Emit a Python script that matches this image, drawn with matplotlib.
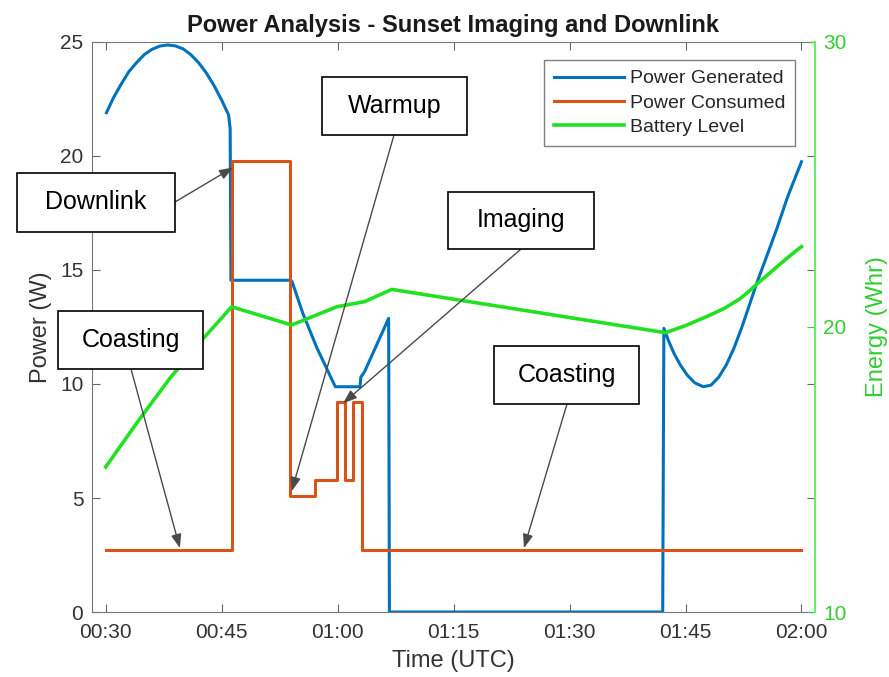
import matplotlib
matplotlib.use("Agg")
import matplotlib.pyplot as plt
from matplotlib.patches import Rectangle

plt.rcParams['font.family'] = ['Liberation Sans', 'DejaVu Sans']

# time in minutes after 00:00 UTC
gen_t = [30.1, 31.0, 32.0, 33.0, 34.0, 35.0, 36.0, 37.0, 38.0, 39.0, 40.0, 41.0, 42.0, 43.0, 44.0,
         45.0, 45.9, 46.1, 46.2,
         53.9, 54.1, 55.5, 57.3, 59.7, 62.9, 63.0, 63.5, 66.6, 66.7,
         102.05, 102.2, 102.8, 103.5, 104.3, 105.2, 106.2, 107.3, 108.3, 109.3, 110.3, 111.3,
         112.3, 113.3, 114.2, 115.5, 116.8, 118.2, 120.0]
gen_w = [21.9, 22.55, 23.15, 23.7, 24.1, 24.45, 24.68, 24.82, 24.87, 24.83, 24.7, 24.45, 24.1, 23.65, 23.1,
         22.45, 21.8, 21.2, 14.55,
         14.55, 14.5, 13.1, 11.6, 9.88, 9.88, 10.3, 10.55, 12.88, 0.0,
         0.0, 12.44, 11.9, 11.35, 10.85, 10.4, 10.05, 9.88, 9.95, 10.3, 10.85, 11.6,
         12.5, 13.5, 14.41, 15.6, 16.8, 18.2, 19.75]

con_t = [30.0, 46.3, 46.3, 53.9, 53.9, 57.1, 57.1, 59.9, 59.9, 61.0, 61.0, 62.0, 62.0, 63.1, 63.1, 120.0]
con_w = [2.72, 2.72, 19.76, 19.76, 5.07, 5.07, 5.79, 5.79, 9.22, 9.22, 5.79, 5.79, 9.22, 9.22, 2.72, 2.72]

bat_t = [30.0, 34.2, 38.3, 42.3, 46.3, 54.05, 59.9, 63.5, 67.0, 102.4, 105.0, 107.7, 110.0,
         112.1, 113.2, 114.2, 115.7, 117.2, 118.6, 120.0]
bat_e = [15.09, 16.7, 18.2, 19.5, 20.71, 20.07, 20.71, 20.89, 21.32, 19.8, 20.05, 20.36, 20.65,
         21.0, 21.25, 21.5, 21.85, 22.2, 22.52, 22.82]

xtick_pos = [30, 45, 60, 75, 90, 105, 120]
xtick_lab = ['00:30', '00:45', '01:00', '01:15', '01:30', '01:45', '02:00']

# annotation labels and the points they mark (time, power)
note_lab = ['Downlink', 'Warmup', 'Imaging', 'Coasting', 'Coasting']
note_t = [46.5, 54.06, 60.7, 39.6, 84.1]
note_w = [19.5, 5.3, 9.15, 2.8, 2.8]
# box pixel layout: x0, y0, x1, y1 and arrow start
note_box = [(17, 173, 175, 232), (322, 77, 467, 135), (448, 192, 594, 249),
            (58, 311, 203, 369), (494, 346, 639, 404)]
note_src = [(175, 202), (394, 135), (521, 249), (131, 369), (567, 404)]

W, H = 889, 677
fig = plt.figure(figsize=(8.89, 6.77), dpi=100)
ax = fig.add_axes([91.7 / W, 65 / H, 723.3 / W, 570 / H])
ax2 = ax.twinx()

l1, = ax.plot(gen_t, gen_w, color='#0072BD', lw=2.2, label='Power Generated', zorder=2)
l2, = ax.plot(con_t, con_w, color='#D95319', lw=2.2, label='Power Consumed', zorder=3)
l3, = ax2.plot(bat_t, bat_e, color='#22e022', lw=2.6, label='Battery Level')

ax.set_xlim(28.19, 121.75)
ax.set_ylim(0, 25)
ax2.set_ylim(10, 30)
ax.set_xticks(xtick_pos)
ax.set_xticklabels(xtick_lab)
ax.set_yticks([0, 5, 10, 15, 20, 25])
ax2.set_yticks([10, 20, 30])

ax.tick_params(axis='both', direction='in', top=True, right=True, length=5.5,
               color='#666666', labelsize=15, labelcolor='#333333', pad=6)
ax.tick_params(axis='x', pad=8)
ax2.tick_params(axis='y', direction='in', length=5.5, colors='#33cc33', labelsize=15, pad=6)

for s in ['left', 'top', 'bottom']:
    ax.spines[s].set_color('#777777')
    ax2.spines[s].set_visible(False)
ax.spines['right'].set_visible(False)
ax2.spines['right'].set_color('#66ee66')
ax2.spines['right'].set_linewidth(1.5)

ax.set_xlabel('Time (UTC)', fontsize=17, color='#333333', labelpad=6)
ax.set_ylabel('Power (W)', fontsize=17, color='#333333', labelpad=6)
ax2.set_ylabel('Energy (Whr)', fontsize=17, color='#33cc33', labelpad=14)
ax.set_title('Power Analysis - Sunset Imaging and Downlink', fontsize=17,
             fontweight='bold', color='#1a1a1a', pad=7)

leg = ax2.legend([l1, l2, l3], [l1.get_label(), l2.get_label(), l3.get_label()],
                 loc='upper right', bbox_to_anchor=(0.9724, 0.9684), bbox_transform=ax.transAxes,
                 fontsize=14, fancybox=False, edgecolor='#808080', framealpha=1,
                 handlelength=3.6, handletextpad=0.3, labelspacing=0.35, borderpad=0.5,
                 borderaxespad=0)
leg.get_frame().set_linewidth(1.0)
for txt in leg.get_texts():
    txt.set_color('#262626')

for lab, box, src, tt, ww in zip(note_lab, note_box, note_src, note_t, note_w):
    x0, y0, x1, y1 = box
    fig.patches.append(Rectangle((x0 / W, 1 - y1 / H), (x1 - x0) / W, (y1 - y0) / H,
                                 transform=fig.transFigure, fc='white', ec='black',
                                 lw=1.2, zorder=5))
    fig.text((x0 + x1) / 2 / W, 1 - (y0 + y1) / 2 / H, lab, ha='center', va='center',
             fontsize=18, color='black', zorder=6)
    ax2.annotate('', xy=(tt, ww), xycoords=ax.transData,
                 xytext=(src[0] / W, 1 - src[1] / H), textcoords='figure fraction',
                 arrowprops=dict(arrowstyle='-|>,head_length=0.6,head_width=0.22',
                                 color='#4a4a4a', lw=1.0, shrinkA=0, shrinkB=0,
                                 mutation_scale=14))

fig.savefig('out.png', dpi=100)
